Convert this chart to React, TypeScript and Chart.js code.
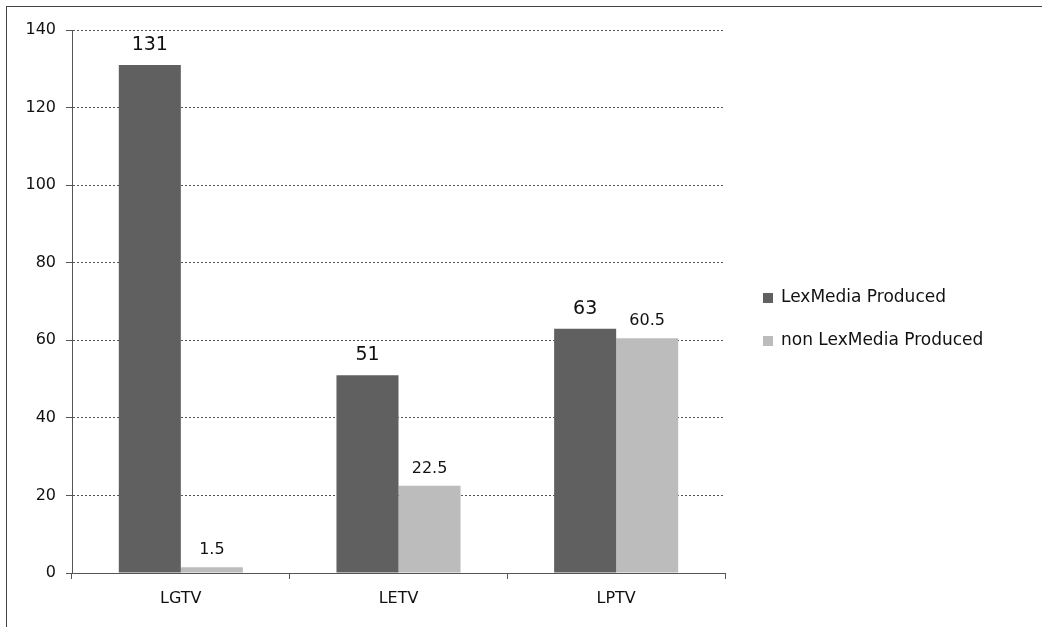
import React, { useEffect, useRef } from "react";
import { Chart, registerables } from "chart.js";

Chart.register(...registerables);

const categories = ["LGTV", "LETV", "LPTV"];
const lexMedia = [131, 51, 63];
const nonLexMedia = [1.5, 22.5, 60.5];
const seriesNames = ["LexMedia Produced", "non LexMedia Produced"];
const yTicks = [0, 20, 40, 60, 80, 100, 120, 140];

const DARK = "#606060";
const LIGHT = "#bcbcbc";
const FONT = "'DejaVu Sans', 'Open Sans', sans-serif";

const labelPlugin = {
  id: "labels",
  afterDatasetsDraw(chart: any) {
    const ctx = chart.ctx;
    ctx.save();
    ctx.fillStyle = "#111";
    ctx.textAlign = "center";
    ctx.textBaseline = "alphabetic";
    chart.data.datasets.forEach((ds: any, di: number) => {
      const meta = chart.getDatasetMeta(di);
      ctx.font = di === 0 ? `19px ${FONT}` : `16px ${FONT}`;
      meta.data.forEach((bar: any, i: number) => {
        ctx.fillText(String(ds.data[i]), bar.x, bar.y - (di === 0 ? 15 : 13));
      });
    });
    ctx.restore();
  },
  afterDraw(chart: any) {
    const ctx = chart.ctx;
    ctx.save();
    const items = [
      { name: seriesNames[0], color: DARK, y: 298 },
      { name: seriesNames[1], color: LIGHT, y: 341 },
    ];
    ctx.font = `17px ${FONT}`;
    ctx.textBaseline = "middle";
    ctx.textAlign = "left";
    items.forEach((it) => {
      ctx.fillStyle = it.color;
      ctx.fillRect(763, it.y - 5, 10, 10);
      ctx.fillStyle = "#111";
      ctx.fillText(it.name, 781, it.y);
    });
    ctx.restore();
  },
};

export default function App() {
  const ref = useRef<HTMLCanvasElement>(null);
  useEffect(() => {
    document.body.style.margin = "0";
    const chart = new Chart(ref.current as HTMLCanvasElement, {
      type: "bar",
      data: {
        labels: categories,
        datasets: [
          { label: seriesNames[0], data: lexMedia, backgroundColor: DARK, barPercentage: 1, categoryPercentage: 0.57 },
          { label: seriesNames[1], data: nonLexMedia, backgroundColor: LIGHT, barPercentage: 1, categoryPercentage: 0.57 },
        ],
      },
      options: {
        animation: false,
        responsive: false,
        maintainAspectRatio: false,
        layout: { padding: { top: 30, right: 317, left: 0, bottom: 0 } },
        plugins: { legend: { display: false }, tooltip: { enabled: false } },
        scales: {
          x: {
            afterFit: (s: any) => { s.height = 54; },
            grid: { display: true, drawOnChartArea: false, drawTicks: true, tickLength: 6, color: "#555", offset: true },
            border: { display: true, color: "#555", dash: [2, 2] },
            ticks: { color: "#111", font: { family: FONT, size: 16 }, padding: 10 },
          },
          y: {
            min: 0,
            max: 140,
            afterFit: (s: any) => { s.width = 72; },
            afterBuildTicks: (s: any) => { s.ticks = yTicks.map((v) => ({ value: v })); },
            grid: { color: "#555", lineWidth: 1, tickLength: 6, drawTicks: true },
            border: { display: true, color: "#555", dash: [2, 2] },
            ticks: { color: "#111", font: { family: FONT, size: 16 }, padding: 10 },
          },
        },
      },
      plugins: [labelPlugin],
    } as any);
    return () => chart.destroy();
  }, []);
  return (
    <div style={{ position: "relative", width: 1042, height: 627 }}>
      <div style={{ position: "absolute", left: 6, top: 6, width: 1036, height: 621, borderTop: "1px solid #444", borderLeft: "1px solid #444" }} />
      <canvas ref={ref} width={1042} height={627} style={{ position: "absolute", left: 0, top: 0, width: 1042, height: 627 }} />
    </div>
  );
}
